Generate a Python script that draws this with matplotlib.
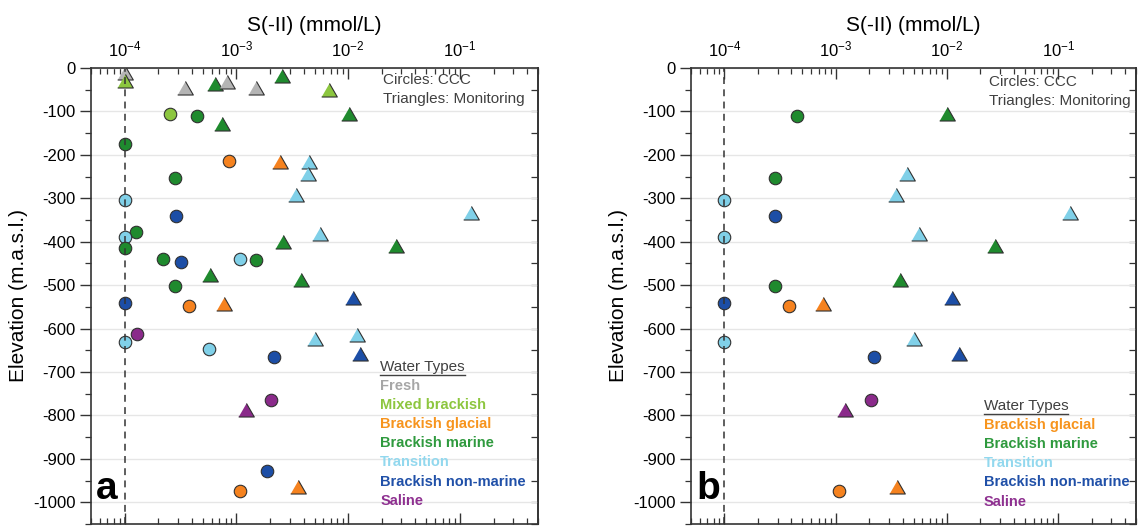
import matplotlib
matplotlib.use('Agg')
import matplotlib.pyplot as plt
from matplotlib.ticker import MultipleLocator, LogLocator, NullFormatter
from matplotlib.lines import Line2D

plt.rcParams['font.family'] = ['Liberation Sans', 'DejaVu Sans']
plt.rcParams['axes.unicode_minus'] = False

# water type names, marker fills and legend text colours
water_types = ['Fresh', 'Mixed brackish', 'Brackish glacial', 'Brackish marine',
               'Transition', 'Brackish non-marine', 'Saline']
fill_colors = ['#b4b4b4', '#8cc63f', '#f5821f', '#1f8a2e', '#80d0e8', '#1c4ea6', '#8a2a8a']
text_colors = ['#a6a6a6', '#8dc63f', '#f7941d', '#2f9a3e', '#92d8ee', '#2050a8', '#8e3090']

# CCC samples (circles)
ccc_s2 = [2.54e-4, 4.44e-4, 1.0e-4, 8.57e-4, 2.83e-4, 1.0e-4, 2.87e-4, 1.26e-4,
          1.0e-4, 1.0e-4, 2.22e-4, 3.2e-4, 1.08e-3, 1.49e-3, 2.83e-4, 1.0e-4,
          3.8e-4, 1.28e-4, 1.0e-4, 5.7e-4, 2.19e-3, 2.06e-3, 1.86e-3, 1.07e-3]
ccc_elev = [-107, -110, -175, -214, -253, -303, -341, -378, -389, -414, -439, -447,
            -439, -441, -502, -541, -548, -613, -630, -646, -665, -765, -929, -975]
ccc_type = ['Mixed brackish', 'Brackish marine', 'Brackish marine', 'Brackish glacial',
            'Brackish marine', 'Transition', 'Brackish non-marine', 'Brackish marine',
            'Transition', 'Brackish marine', 'Brackish marine', 'Brackish non-marine',
            'Transition', 'Brackish marine', 'Brackish marine', 'Brackish non-marine',
            'Brackish glacial', 'Saline', 'Transition', 'Transition',
            'Brackish non-marine', 'Saline', 'Brackish non-marine', 'Brackish glacial']
ccc_in_b = [0, 1, 0, 0, 1, 1, 1, 0, 1, 0, 0, 0, 0, 0, 1, 1, 1, 0, 1, 0, 1, 1, 0, 1]

# monitoring samples (triangles)
mon_s2 = [1.0e-4, 1.0e-4, 3.45e-4, 6.4e-4, 8.3e-4, 1.51e-3, 2.57e-3, 6.76e-3, 1.01e-2,
          7.4e-4, 2.48e-3, 4.48e-3, 4.4e-3, 3.45e-3, 0.127, 5.63e-3, 2.6e-3, 2.69e-2,
          5.8e-4, 3.75e-3, 1.11e-2, 7.67e-4, 5.1e-3, 1.21e-2, 1.28e-2, 1.21e-3, 3.53e-3]
mon_elev = [-15, -35, -51, -42, -36, -51, -23, -56, -111, -134, -222, -221, -249, -297,
            -339, -387, -405, -414, -481, -492, -535, -548, -628, -620, -663, -791, -970]
mon_type = ['Fresh', 'Mixed brackish', 'Fresh', 'Brackish marine', 'Fresh', 'Fresh',
            'Brackish marine', 'Mixed brackish', 'Brackish marine', 'Brackish marine',
            'Brackish glacial', 'Transition', 'Transition', 'Transition', 'Transition',
            'Transition', 'Brackish marine', 'Brackish marine', 'Brackish marine',
            'Brackish marine', 'Brackish non-marine', 'Brackish glacial', 'Transition',
            'Transition', 'Brackish non-marine', 'Saline', 'Brackish glacial']
mon_in_b = [0, 0, 0, 0, 0, 0, 0, 0, 1, 0, 0, 0, 1, 1, 1, 1, 0, 1, 0, 1, 1, 1, 1, 0, 1, 1, 1]

detection_limit = 1e-4

# equilateral triangle marker
tri = [(-1.0, -0.577), (1.0, -0.577), (0.0, 1.155)]

W, H = 1138, 526
fig = plt.figure(figsize=(W / 100, H / 100), dpi=100)
ax_a = fig.add_axes([91 / W, 2 / H, 447 / W, 456 / H])
ax_b = fig.add_axes([691 / W, 2 / H, 445 / W, 456 / H])


def draw_panel(ax, letter, only_b):
    for i in range(len(ccc_s2)):
        if only_b and not ccc_in_b[i]:
            continue
        k = water_types.index(ccc_type[i])
        ax.plot(ccc_s2[i], ccc_elev[i], marker='o', ms=9, mfc=fill_colors[k],
                mec='#303030', mew=0.8, ls='none', zorder=3)
    for i in range(len(mon_s2)):
        if only_b and not mon_in_b[i]:
            continue
        k = water_types.index(mon_type[i])
        ax.plot(mon_s2[i], mon_elev[i], marker=tri, ms=13, mfc=fill_colors[k],
                mec='#303030', mew=0.8, ls='none', zorder=3)

    ax.axvline(detection_limit, color='#333333', lw=1.1, ls=(0, (4.5, 3.5)), zorder=4)

    ax.set_xscale('log')
    ax.set_xlim(5e-5, 0.5)
    ax.set_ylim(-1050, 0)
    ax.xaxis.set_major_locator(LogLocator(base=10, numticks=10))
    ax.xaxis.set_minor_locator(LogLocator(base=10, subs=range(2, 10), numticks=20))
    ax.xaxis.set_minor_formatter(NullFormatter())
    ax.yaxis.set_major_locator(MultipleLocator(100))
    ax.yaxis.set_minor_locator(MultipleLocator(50))
    ax.xaxis.set_label_position('top')
    ax.tick_params(axis='x', which='both', direction='in', top=True, bottom=True,
                   labeltop=True, labelbottom=False, color='#333333')
    ax.tick_params(axis='x', which='major', length=8, width=1, labelsize=12, pad=6)
    ax.tick_params(axis='x', which='minor', length=4, width=0.9)
    ax.tick_params(axis='y', which='both', direction='out', right=False, color='#333333')
    ax.tick_params(axis='y', which='major', length=8, width=1, labelsize=12, pad=3)
    ax.tick_params(axis='y', which='minor', length=4, width=0.9)

    sec = ax.secondary_yaxis('right')
    sec.yaxis.set_major_locator(MultipleLocator(100))
    sec.yaxis.set_minor_locator(MultipleLocator(50))
    sec.tick_params(which='both', direction='in', length=5, width=0.9,
                    labelright=False, color='#333333')
    sec.spines['right'].set_linewidth(1.2)
    sec.spines['right'].set_color('#333333')

    for s in ax.spines.values():
        s.set_linewidth(1.2)
        s.set_color('#333333')

    ax.yaxis.grid(True, which='major', color='#e6e6e6', lw=1)
    ax.set_axisbelow(True)

    ax.set_xlabel('S(-II) (mmol/L)', fontsize=15, labelpad=6)
    ax.set_ylabel('Elevation (m.a.s.l.)', fontsize=15, labelpad=4)

    ax.text(0.012, 0.055, letter, transform=ax.transAxes, fontsize=28,
            fontweight='bold', ha='left', va='baseline', color='black')


draw_panel(ax_a, 'a', False)
draw_panel(ax_b, 'b', True)

note = 'Circles: CCC\nTriangles: Monitoring'
ax_a.text(0.653, 0.989, note, transform=ax_a.transAxes, fontsize=11,
          color='#404040', ha='left', va='top', linespacing=1.45)
ax_b.text(0.669, 0.985, note, transform=ax_b.transAxes, fontsize=11,
          color='#404040', ha='left', va='top', linespacing=1.45)


def water_legend(ax, x0, y_title, names):
    step = 19.1 / 456
    title = ax.text(x0, y_title, 'Water Types', transform=ax.transAxes, fontsize=11,
                    color='#404040', ha='left', va='center')
    for j, name in enumerate(names):
        k = water_types.index(name)
        ax.text(x0, y_title - (j + 1) * step, name, transform=ax.transAxes,
                fontsize=10.5, fontweight='bold', color=text_colors[k],
                ha='left', va='center')
    return title


title_a = water_legend(ax_a, 0.647, 1 - (367 - 68) / 456, water_types)
title_b = water_legend(ax_b, 0.658, 1 - (406 - 68) / 456, water_types[2:])

# underline the legend titles
fig.canvas.draw()
for ax, t in ((ax_a, title_a), (ax_b, title_b)):
    bb = t.get_window_extent()
    inv = ax.transAxes.inverted()
    (x1, y1), (x2, _) = inv.transform([(bb.x0, bb.y0 - 1), (bb.x1, bb.y0)])
    ax.add_line(Line2D([x1, x2], [y1, y1], transform=ax.transAxes,
                       color='#404040', lw=1.0, clip_on=False))

fig.savefig('out.png', dpi=100)
